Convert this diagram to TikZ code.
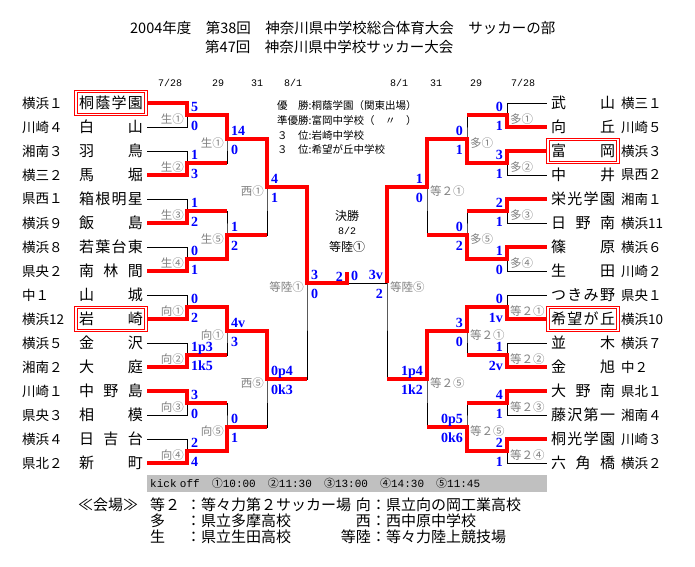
\documentclass[tikz,border=0pt]{standalone}
\usepackage{fontspec}
\usepackage{tikz}
\usetikzlibrary{calc}
\newfontfamily\jp{Noto Sans CJK JP}
\newfontfamily\mono{Liberation Mono}
\newfontfamily\scorefont{Liberation Serif}
\definecolor{WinRed}{HTML}{FF0000}
\definecolor{ScoreBlue}{HTML}{0000FF}
\definecolor{VenueGray}{HTML}{808080}
\definecolor{BarGray}{HTML}{C0C0C0}
\newcommand{\fs}[1]{\fontsize{#1}{#1}\selectfont}
\tikzset{
  win/.style={draw=WinRed,line width=4pt},
  lose/.style={draw=black,line width=0.9pt},
  team/.style={inner sep=0pt,minimum width=72pt,minimum height=25pt,font=\jp\fs{15}},
  champline/.style={draw=WinRed,line width=0.9pt},
  pref/.style={inner sep=0pt,anchor=west,font=\jp\fs{13.5}},
  score/.style={inner sep=0pt,text=ScoreBlue,font=\scorefont\bfseries\fs{14}},
  venue/.style={inner sep=0pt,text=VenueGray,font=\jp\fs{11.5}},
  date/.style={inner sep=0pt,font=\mono\fs{10}},
  heading/.style={inner sep=0pt,anchor=west,font=\jp\fs{14.5}},
  result/.style={inner sep=0pt,anchor=west,font=\jp\fs{10.5}},
  foot/.style={inner sep=0pt,font=\jp\fs{15}},
  bar/.style={fill=BarGray,inner sep=3pt,text width=394pt,align=left,minimum height=17pt}
}
% scores and venue labels beside a junction
\newcommand{\lsc}[3]{\node[score,anchor=base west] (#1t) at ($(#1)+(4,-4)$) {#2};
  \node[score,anchor=base west] (#1b) at ($(#1)+(4,15)$) {#3};}
\newcommand{\rsc}[3]{\node[score,anchor=base east] (#1t) at ($(#1)+(-4,-4)$) {#2};
  \node[score,anchor=base east] (#1b) at ($(#1)+(-4,15)$) {#3};}
\newcommand{\lvn}[2]{\node[venue,anchor=east] (#1v) at ($(#1)+(-3,4.5)$) {#2};}
\newcommand{\rvn}[2]{\node[venue,anchor=west] (#1v) at ($(#1)+(3,4)$) {#2};}

\begin{document}
\begin{tikzpicture}[x=1pt,y=-1pt]
  \path[use as bounding box,fill=white] (0,0) rectangle (695,566);

  % title
  \node[heading] (title1) at (130,28) {2004年度　第38回　神奈川県中学校総合体育大会　サッカーの部};
  \node[heading] (title2) at (205,47) {第47回　神奈川県中学校サッカー大会};

  % dates
  \node[date] (dl1) at (170,83) {7/28};
  \node[date] (dl2) at (218,83) {29};
  \node[date] (dl3) at (257,83) {31};
  \node[date] (dl4) at (293,83) {8/1};
  \node[date] (dr4) at (399,83) {8/1};
  \node[date] (dr3) at (436,83) {31};
  \node[date] (dr2) at (476,83) {29};
  \node[date] (dr1) at (523,83) {7/28};

  % teams, left
  \foreach \i/\tpref/\tname in {
    1/横浜１/{桐\hfill 蔭\hfill 学\hfill 園},
    2/川崎４/{白\hfill 山},
    3/湘南３/{羽\hfill 鳥},
    4/横三２/{馬\hfill 堀},
    5/県西１/{箱\hfill 根\hfill 明\hfill 星},
    6/横浜９/{飯\hfill 島},
    7/横浜８/{若\hfill 葉\hfill 台\hfill 東},
    8/県央２/{南\hfill 林\hfill 間},
    9/中１/{山\hfill 城},
    10/横浜12/{岩\hfill 崎},
    11/横浜５/{金\hfill 沢},
    12/湘南２/{大\hfill 庭},
    13/川崎１/{中\hfill 野\hfill 島},
    14/県央３/{相\hfill 模},
    15/横浜４/{日\hfill 吉\hfill 台},
    16/県北２/{新\hfill 町}}{
    \pgfmathsetmacro\y{103+24*(\i-1)}
    \node[pref] (LP\i) at (22,\y) {\tpref};
    \node[team] (L\i) at (111,\y) {\hbox to 64pt{\tname}};
  }

  % teams, right
  \foreach \i/\tpref/\tname in {
    1/横三１/{武\hfill 山},
    2/川崎５/{向\hfill 丘},
    3/横浜３/{富\hfill 岡},
    4/県西２/{中\hfill 井},
    5/湘南１/{栄\hfill 光\hfill 学\hfill 園},
    6/横浜11/{日\hfill 野\hfill 南},
    7/横浜６/{篠\hfill 原},
    8/川崎２/{生\hfill 田},
    9/県央１/{つ\hfill き\hfill み\hfill 野},
    10/横浜10/{希\hfill 望\hfill が\hfill 丘},
    11/横浜７/{並\hfill 木},
    12/中２/{金\hfill 旭},
    13/県北１/{大\hfill 野\hfill 南},
    14/湘南４/{藤\hfill 沢\hfill 第\hfill 一},
    15/川崎３/{桐\hfill 光\hfill 学\hfill 園},
    16/横浜２/{六\hfill 角\hfill 橋}}{
    \pgfmathsetmacro\y{103+24*(\i-1)}
    \node[pref] (RP\i) at (621,\y) {\tpref};
    \node[team] (R\i) at (583,\y) {\hbox to 64pt{\tname}};
  }

  % frames round the top four
  \foreach \t in {L1,L10,R3,R10}{
    \draw[champline] (\t.north west) rectangle (\t.south east);
    \draw[champline] ($(\t.north west)+(2.5,2.5)$) rectangle ($(\t.south east)+(-2.5,-2.5)$);
  }

  % junctions
  \coordinate (a1) at (187,115); \coordinate (a2) at (187,163);
  \coordinate (a3) at (187,211); \coordinate (a4) at (187,259);
  \coordinate (a5) at (187,307); \coordinate (a6) at (187,355);
  \coordinate (a7) at (187,403); \coordinate (a8) at (187,451);
  \coordinate (b1) at (227,139); \coordinate (b2) at (227,235);
  \coordinate (b3) at (227,331); \coordinate (b4) at (227,427);
  \coordinate (c1) at (267,187); \coordinate (c2) at (267,379);
  \coordinate (d1) at (307,283);
  \coordinate (f) at (347,283); \coordinate (ft) at (347,272);
  \coordinate (d2) at (387,283);
  \coordinate (c3) at (427,187); \coordinate (c4) at (427,379);
  \coordinate (b5) at (467,139); \coordinate (b6) at (467,235);
  \coordinate (b7) at (467,331); \coordinate (b8) at (467,427);
  \coordinate (a9) at (507,115); \coordinate (a10) at (507,163);
  \coordinate (a11) at (507,211); \coordinate (a12) at (507,259);
  \coordinate (a13) at (507,307); \coordinate (a14) at (507,355);
  \coordinate (a15) at (507,403); \coordinate (a16) at (507,451);

  % black bracket
  \foreach \i in {1,...,16}{
    \pgfmathtruncatemacro\m{(\i+1)/2}
    \pgfmathtruncatemacro\n{(\i+1)/2+8}
    \draw[lose] (L\i.east) -| (a\m);
    \draw[lose] (R\i.west) -| (a\n);
  }
  \draw[lose] (a1) -| (b1) |- (a2);
  \draw[lose] (a3) -| (b2) |- (a4);
  \draw[lose] (a5) -| (b3) |- (a6);
  \draw[lose] (a7) -| (b4) |- (a8);
  \draw[lose] (b1) -| (c1) |- (b2);
  \draw[lose] (b3) -| (c2) |- (b4);
  \draw[lose] (c1) -| (d1) |- (c2);
  \draw[lose] (d1) -- (f) -- (d2);
  \draw[lose] (c3) -| (d2) |- (c4);
  \draw[lose] (b5) -| (c3) |- (b6);
  \draw[lose] (b7) -| (c4) |- (b8);
  \draw[lose] (a9) -| (b5) |- (a10);
  \draw[lose] (a11) -| (b6) |- (a12);
  \draw[lose] (a13) -| (b7) |- (a14);
  \draw[lose] (a15) -| (b8) |- (a16);

  % winners, left
  \draw[win] (L1.east) -| (a1) -| (b1) -| (c1) -| (d1) -- (f) -- (ft);
  \draw[win] (L4.east) -| (a2) -- (a2 -| b1);
  \draw[win] (L6.east) -| (a3) -- (a3 -| b2);
  \draw[win] (L8.east) -| (a4) -| (b2) -- (b2 -| c1);
  \draw[win] (L10.east) -| (a5) -| (b3) -| (c2) -- (c2 -| d1);
  \draw[win] (L12.east) -| (a6) -- (a6 -| b3);
  \draw[win] (L13.east) -| (a7) -- (a7 -| b4);
  \draw[win] (L16.east) -| (a8) -| (b4) -- (b4 -| c2);
  % winners, right
  \draw[win] (R2.west) -| (a9) -- (a9 -| b5);
  \draw[win] (R3.west) -| (a10) -| (b5) -| (c3) -| (d2);
  \draw[win] (R5.west) -| (a11) -- (a11 -| b6);
  \draw[win] (R7.west) -| (a12) -| (b6) -- (b6 -| c3);
  \draw[win] (R10.west) -| (a13) -| (b7) -| (c4) -- (c4 -| d2);
  \draw[win] (R12.west) -| (a14) -- (a14 -| b7);
  \draw[win] (R13.west) -| (a15) -- (a15 -| b8);
  \draw[win] (R15.west) -| (a16) -| (b8) -- (b8 -| c4);

  % scores
  \lsc{a1}{5}{0} \lsc{a2}{1}{3} \lsc{a3}{1}{2} \lsc{a4}{0}{1}
  \lsc{a5}{0}{2} \lsc{a6}{1p3}{1k5} \lsc{a7}{3}{0} \lsc{a8}{2}{4}
  \lsc{b1}{14}{0} \lsc{b2}{1}{2} \lsc{b3}{4v}{3} \lsc{b4}{0}{1}
  \lsc{c1}{4}{1} \lsc{c2}{0p4}{0k3} \lsc{d1}{3}{0}
  \rsc{a9}{0}{1} \rsc{a10}{3}{1} \rsc{a11}{2}{1} \rsc{a12}{1}{0}
  \rsc{a13}{0}{1v} \rsc{a14}{1}{2v} \rsc{a15}{4}{1} \rsc{a16}{2}{1}
  \rsc{b5}{0}{1} \rsc{b6}{0}{2} \rsc{b7}{3}{0} \rsc{b8}{0p5}{0k6}
  \rsc{c3}{1}{0} \rsc{c4}{1p4}{1k2} \rsc{d2}{3v}{2}
  \node[score,anchor=base east] (fl) at ($(f)+(-4,-2)$) {2};
  \node[score,anchor=base west] (fr) at ($(f)+(4,-3)$) {0};

  % venues
  \lvn{a1}{生①} \lvn{a2}{生②} \lvn{a3}{生③} \lvn{a4}{生④}
  \lvn{a5}{向①} \lvn{a6}{向②} \lvn{a7}{向③} \lvn{a8}{向④}
  \lvn{b1}{生①} \lvn{b2}{生⑤} \lvn{b3}{向①} \lvn{b4}{向⑤}
  \lvn{c1}{西①} \lvn{c2}{西⑤} \lvn{d1}{等陸①}
  \rvn{a9}{多①} \rvn{a10}{多②} \rvn{a11}{多③} \rvn{a12}{多④}
  \rvn{a13}{等２①} \rvn{a14}{等２②} \rvn{a15}{等２③} \rvn{a16}{等２④}
  \rvn{b5}{多①} \rvn{b6}{多⑤} \rvn{b7}{等２①} \rvn{b8}{等２⑤}
  \rvn{c3}{等２①} \rvn{c4}{等２⑤} \rvn{d2}{等陸⑤}

  % final
  \node[inner sep=0pt,font=\jp\fs{12}] (fin1) at (347,216) {決勝};
  \node[date] (fin2) at (347,231) {8/2};
  \node[inner sep=0pt,font=\jp\fs{12}] (fin3) at (347,247) {等陸①};

  % results
  \node[result] (res1) at (277,106) {優　勝:桐蔭学園（関東出場）};
  \node[result] (res2) at (277,121) {準優勝:富岡中学校（　〃　）};
  \node[result] (res3) at (277,135) {３　位:岩崎中学校};
  \node[result] (res4) at (277,149) {３　位:希望が丘中学校};

  % kick off and venues
  \node[bar,anchor=west] (kick) at (147,483.5) {\hbox to 330pt{\mono\fs{11}kick off\hfill
    {\jp①}10:00\hfill{\jp②}11:30\hfill{\jp③}13:00\hfill{\jp④}14:30\hfill{\jp⑤}11:45}};
  \node[foot,anchor=west] (kaijo) at (78,505) {≪会場≫};
  \node[foot,anchor=west] (vt2) at (150,505) {等２};
  \node[foot,anchor=west] (vta) at (150,521) {多};
  \node[foot,anchor=west] (vik) at (150,537) {生};
  \node[foot,anchor=west] (nt2) at (186,505) {：等々力第２サッカー場};
  \node[foot,anchor=west] (nta) at (186,521) {：県立多摩高校};
  \node[foot,anchor=west] (nik) at (186,537) {：県立生田高校};
  \node[foot,anchor=east] (vmu) at (371,505) {向};
  \node[foot,anchor=east] (vni) at (371,521) {西};
  \node[foot,anchor=east] (vtr) at (371,537) {等陸};
  \node[foot,anchor=west] (nmu) at (371,505) {：県立向の岡工業高校};
  \node[foot,anchor=west] (nni) at (371,521) {：西中原中学校};
  \node[foot,anchor=west] (ntr) at (371,537) {：等々力陸上競技場};
\end{tikzpicture}
\end{document}
